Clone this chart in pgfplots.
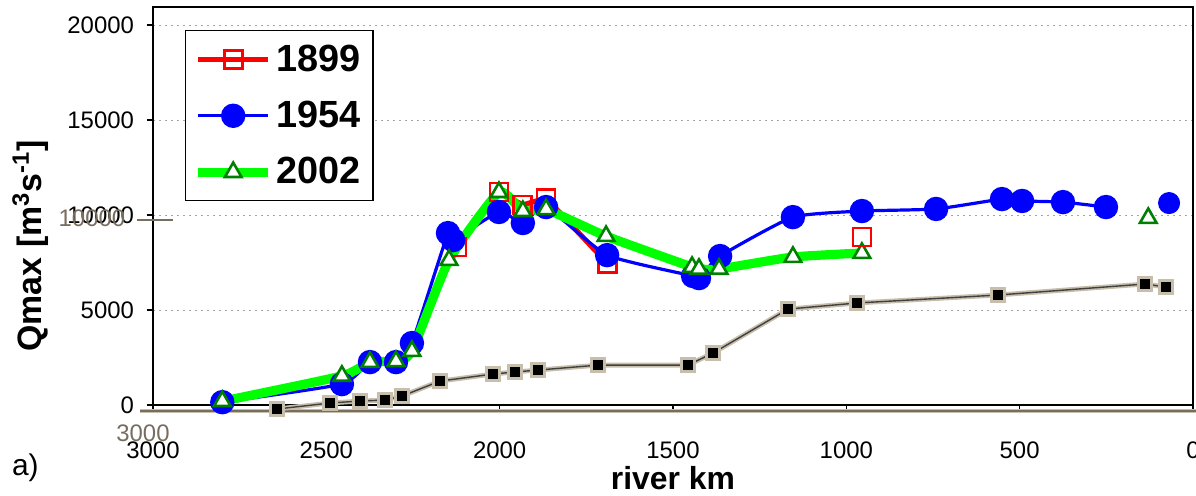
\documentclass[border=0pt]{standalone}
\usepackage{fontspec}
\setmainfont{Liberation Sans}
\usepackage{pgfplots}
\pgfplotsset{compat=1.18}
\usepackage{pgfplotstable}

\definecolor{cRed}{RGB}{255,0,0}
\definecolor{cBlue}{RGB}{0,0,255}
\definecolor{cLime}{RGB}{0,255,0}
\definecolor{cDkGreen}{RGB}{0,128,0}
\definecolor{cGrid}{RGB}{165,165,165}
\definecolor{cHalo}{RGB}{200,190,172}
\definecolor{cGhost}{RGB}{120,110,95}

% Qmax along the river (km, m3/s)
\pgfplotstableread{
km q
2123 8320
2002 11210
1933 10530
1866 10890
1690 7470
}\yrA
\pgfplotstableread{
km q
2800 150
2455 1100
2374 2260
2299 2260
2253 3260
2149 9050
2134 8680
2002 10160
1933 9580
1866 10420
1690 7890
1442 6790
1425 6680
1364 7840
1154 9890
955 10210
741 10320
551 10840
493 10740
375 10680
251 10420
}\yrB
\pgfplotstableread{
km q
2800 200
2455 1530
2374 2260
2299 2300
2253 2840
2146 7630
2002 11200
1933 10200
1866 10300
1693 8890
1445 7260
1425 7160
1367 7160
1154 7790
955 8000
}\yrC
% pasted grey profile
\pgfplotstableread{
km q
2642 -210
2489 105
2403 210
2331 260
2282 470
2172 1260
2019 1630
1956 1740
1889 1840
1716 2100
1457 2100
1384 2740
1168 5050
969 5370
562 5790
138 6370
78 6210
}\prof

\begin{document}
\begin{tikzpicture}
\begin{axis}[
  scale only axis, width=520bp, height=199bp,
  xmin=0, xmax=3000, x dir=reverse,
  ymin=0, ymax=20950,
  xtick={0,500,...,3000}, ytick={0,5000,...,20000},
  scaled ticks=false,
  /pgf/number format/set thousands separator={},
  /pgf/number format/assume math mode=true,
  ticklabel style={font=\fontsize{12}{14}\selectfont},
  xticklabel style={yshift=-12bp},
  yticklabel style={xshift=-3bp},
  xtick pos=bottom, ytick pos=left,
  tick align=outside, major tick length=3bp,
  tick style={black, line width=0.6bp},
  axis line style={black, line width=1.2bp},
  ymajorgrids, grid style={cGrid, line width=0.5bp, dash pattern=on 1.2bp off 1.8bp},
  clip=false,
  xlabel={river km},
  ylabel={Qmax [m\textsuperscript{3}s\textsuperscript{-1}]},
  label style={font=\bfseries\fontsize{16}{18}\selectfont},
  xlabel style={at={(axis description cs:0.5,-0.183)}, anchor=center},
  ylabel style={at={(axis description cs:-0.118,0.40)}, anchor=center, font=\bfseries\fontsize{17}{19}\selectfont},
  legend image code/.code={\draw[mark repeat=2,mark phase=2,#1] plot coordinates {(0bp,0bp)(17.5bp,0bp)(35bp,0bp)};},
  legend style={at={(0.0308,0.942)}, anchor=north west, draw=black, line width=0.6bp,
    font=\bfseries\fontsize{19}{21}\selectfont, inner xsep=4bp, inner ysep=5bp, row sep=9.5bp},
  legend cell align=left,
]
\addplot[cRed, line width=2.6bp, mark=square, mark size=4.5bp,
  mark options={cRed, fill=white, line width=1.4bp, solid}] table {\yrA};
\addlegendentry{1899}
\addplot[cBlue, line width=1.6bp, smooth, tension=0.3, mark=*, mark size=5.3bp,
  mark options={cBlue, fill=cBlue}] table {\yrB};
\addlegendentry{1954}
\addplot[cLime, line width=4.6bp, smooth, tension=0.3, mark=triangle*, mark size=4.8bp,
  mark options={draw=cDkGreen, fill=white, line width=1.3bp}] table {\yrC};
\addlegendentry{2002}

% isolated points
\addplot[only marks, forget plot, mark=square, mark size=4.5bp,
  mark options={cRed, fill=white, line width=1.4bp}] coordinates {(955,8840)};
\addplot[only marks, forget plot, mark=*, mark size=5.3bp,
  mark options={cBlue, fill=cBlue}] coordinates {(69,10630)};
\addplot[only marks, forget plot, mark=triangle*, mark size=4.8bp,
  mark options={draw=cDkGreen, fill=white, line width=1.3bp}] coordinates {(129,9840)};

% pasted profile and its axis remains
\draw[cHalo, line width=2.2bp] (axis description cs:-0.012,-0.015) -- (axis description cs:1.003,-0.015);
\draw[cGhost, line width=0.6bp] (axis description cs:-0.012,-0.015) -- (axis description cs:1.003,-0.015);
\addplot[cHalo, line width=2.4bp, forget plot, mark=square*, mark size=2.8bp,
  mark options={cHalo}] table {\prof};
\addplot[black!75, line width=0.7bp, forget plot, mark=square*, mark size=2.2bp,
  mark options={black}] table {\prof};
\node[cGhost, font=\fontsize{12}{14}\selectfont] at (axis description cs:-0.0587,0.470) {10000};
\draw[cGhost, line width=1bp] (axis description cs:-0.0154,0.465) -- (axis description cs:0.019,0.465);
\node[cGhost, font=\fontsize{12}{14}\selectfont] at (axis description cs:-0.0096,-0.0704) {3000};

\node[anchor=west, font=\fontsize{15}{17}\selectfont] at (axis description cs:-0.1423,-0.158) {a)};

\coordinate (bbSW) at (axis description cs:-0.1471,-0.2261);
\coordinate (bbNE) at (axis description cs:1.0029,1.0176);
\end{axis}
\pgfresetboundingbox
\path (bbSW) rectangle (bbNE);
\end{tikzpicture}
\end{document}
